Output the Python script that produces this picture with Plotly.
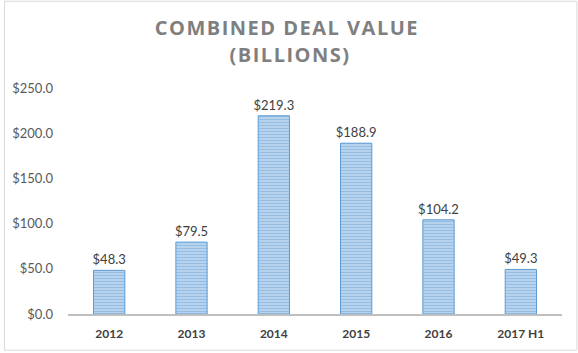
import plotly.graph_objects as go

categories = ["2012", "2013", "2014", "2015", "2016", "2017 H1"]
values = [48.3, 79.5, 219.3, 188.9, 104.2, 49.3]
tick_vals = [0, 50, 100, 150, 200, 250]
tick_text = [f"${v:.1f}" for v in tick_vals]
title_lines = ["COMBINED DEAL VALUE", "(BILLIONS)"]

W, H = 578, 353
ml, mr, mt, mb = 64.5, 15.5, 88, 37
pw = W - ml - mr
ph = H - mt - mb

fig = go.Figure()
fig.add_trace(go.Bar(
    x=categories, y=values,
    marker=dict(
        color="#c9def2",
        line=dict(color="#5b9bd5", width=1),
        pattern=dict(shape="-", fgcolor="#5b9bd5", bgcolor="#cde0f3", size=3, solidity=0.6),
    ),
    text=[f"${v:.1f}" for v in values],
    textposition="outside",
    constraintext="none",
    textfont=dict(family="Lato, Liberation Sans, sans-serif", size=13, color="#404040"),
    cliponaxis=False,
))

annotations = []
for line, xc, yc in zip(title_lines, [285, 288], [26.5, 54.5]):
    annotations.append(dict(
        text=line, showarrow=False,
        xref="paper", yref="paper",
        x=(xc - ml) / pw, y=(H - mb - yc) / ph,
        xanchor="center", yanchor="middle",
        font=dict(family="Open Sans, sans-serif", size=20, color="#7f7f7f", weight="bold"),
    ))

fig.update_layout(
    width=W, height=H,
    margin=dict(l=ml, r=mr, t=mt, b=mb, pad=0),
    paper_bgcolor="white", plot_bgcolor="white",
    bargap=0.62,
    showlegend=False,
    annotations=annotations,
    xaxis=dict(
        showgrid=False, showline=True, linecolor="#bfbfbf", linewidth=1.5,
        ticks="", tickfont=dict(family="Lato, Liberation Sans, sans-serif", size=12, color="#404040", weight="bold"),
        ticklabelstandoff=8,
    ),
    yaxis=dict(
        range=[0, 250], tickvals=tick_vals, ticktext=tick_text,
        showgrid=False, zeroline=False, showline=False, ticks="",
        tickfont=dict(family="Lato, Liberation Sans, sans-serif", size=13, color="#595959"),
        ticklabelstandoff=14,
    ),
    shapes=[dict(
        type="rect", xref="paper", yref="paper",
        x0=(-ml + 0.5) / pw, x1=(W - ml - 0.5) / pw,
        y0=(-mb + 0.5) / ph, y1=(H - mb - 0.5) / ph,
        line=dict(color="#d9d9d9", width=1), fillcolor="rgba(0,0,0,0)", layer="below",
    )],
)

post = """
document.querySelectorAll('.annotation-text').forEach(function(e){
  e.style.letterSpacing = '1.5px';
});
"""
fig.write_html("out.html", post_script=post)
